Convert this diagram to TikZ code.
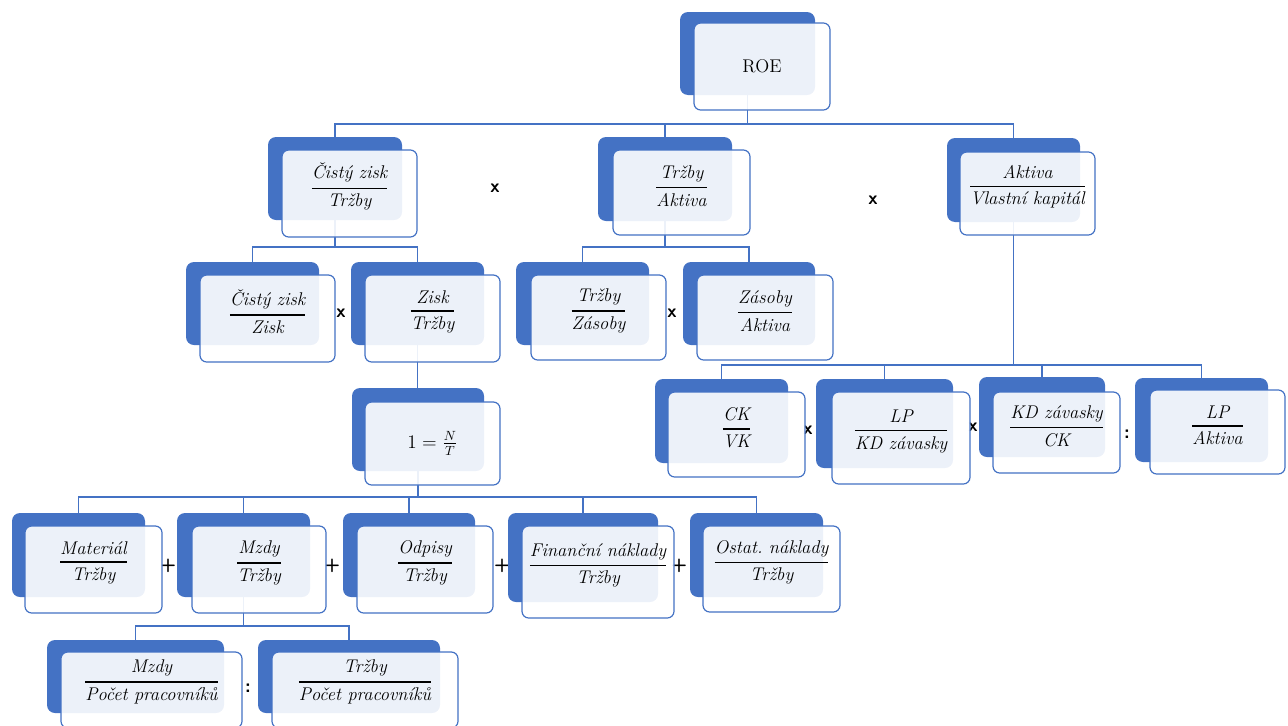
\documentclass[tikz,border=0pt]{standalone}
\usepackage{amsmath}
\usepackage{fontspec}
\usetikzlibrary{positioning,fit,backgrounds}
\definecolor{DkBlue}{RGB}{68,114,196}

\tikzset{
	shbox/.style={fill=DkBlue,rounded corners=6pt,inner sep=0pt},
	wbox/.style={draw=DkBlue,line width=0.9pt,fill=white,fill opacity=0.9,rounded corners=5pt,inner sep=0pt},
	txt/.style={font=\fontsize{13.8}{16}\selectfont,inner sep=1pt},
	sgn/.style={font=\sffamily\bfseries\fontsize{14}{14}\selectfont,inner sep=1pt},
	ln/.style={draw=DkBlue,line width=1.1pt}
}
\newcommand{\fr}[2]{$\genfrac{}{}{1.2pt}{0}{\textit{#1}}{\textit{#2}}$}
% #2 name, #3 dark corners, #4 light corners, #5 text
\newcommand{\blk}[5][yshift=5pt]{%
	\node[shbox,fit={#3}] (#2-s) {};
	\node[wbox,fit={#4}] (#2) {};
	\node[txt,#1] (#2-t) at (#2) {#5};
}

\begin{document}
\begin{tikzpicture}[x=0.75pt,y=-0.75pt]
	\useasboundingbox (0,0) rectangle (1288,725);
	\clip (0,0) rectangle (1288,725);
	\coordinate (bar0) at (0,124);
	\coordinate (bar1) at (0,247);
	\coordinate (bar2) at (0,497);
	\coordinate (bar3) at (0,365);
	\coordinate (bar4) at (0,626);
	% signs
	\node[sgn] (m1) at (495,188) {x};
	\node[sgn] (m2) at (873,200) {x};
	\node[sgn] (m3) at (341,313) {x};
	\node[sgn] (m4) at (672,313) {x};
	\node[sgn] (m5) at (808,430) {x};
	\node[sgn] (m6) at (973,427) {x};
	\node[sgn] (d1) at (1127,434) {:};
	\node[sgn] (p1) at (168,566) {+};
	\node[sgn] (p2) at (332,566) {+};
	\node[sgn] (p3) at (502,566) {+};
	\node[sgn] (p4) at (679,566) {+};
	\node[sgn] (d2) at (248,688) {:};
	% boxes
	\blk[]{roe}{(680,12) (815,95)}{(694,23) (830,110)}{ROE}
	\blk{cz}{(268,137) (402,220)}{(282,150) (417,237)}{\fr{Čistý zisk}{Tržby}}
	\blk{ta}{(598,137) (732,221)}{(613,150) (750,235)}{\fr{Tržby}{Aktiva}}
	\blk{av}{(947,138) (1080,222)}{(960,152) (1095,235)}{\fr{Aktiva}{Vlastní kapitál}}
	\blk{czz}{(186,262) (319,345)}{(200,275) (335,362)}{\fr{Čistý zisk}{Zisk}}
	\blk{zt}{(351,262) (484,345)}{(365,275) (500,362)}{\fr{Zisk}{Tržby}}
	\blk{tz}{(516,262) (649,345)}{(531,275) (666,360)}{\fr{Tržby}{Zásoby}}
	\blk{za}{(683,262) (815,345)}{(697,275) (833,360)}{\fr{Zásoby}{Aktiva}}
	\blk[]{nt}{(352,388) (484,471)}{(365,402) (500,485)}{$1=\frac{N}{T}$}
	\blk{ckvk}{(655,379) (788,463)}{(668,392) (805,477)}{\fr{CK}{VK}}
	\blk{lpkd}{(816,379) (953,468)}{(832,392) (970,484)}{\fr{LP}{KD závasky}}
	\blk{kdck}{(979,377) (1105,457)}{(993,392) (1120,473)}{\fr{KD závasky}{CK}}
	\blk{lpa}{(1135,378) (1268,462)}{(1150,390) (1285,474)}{\fr{LP}{Aktiva}}
	\blk{mat}{(12,513) (145,597)}{(25,526) (162,613)}{\fr{Materiál}{Tržby}}
	\blk{mzdy}{(177,513) (310,597)}{(192,526) (326,613)}{\fr{Mzdy}{Tržby}}
	\blk{odp}{(343,513) (475,597)}{(357,526) (493,613)}{\fr{Odpisy}{Tržby}}
	\blk{fin}{(508,513) (658,602)}{(522,526) (674,618)}{\fr{Finanční náklady}{Tržby}}
	\blk{ost}{(690,513) (823,597)}{(703,526) (840,612)}{\fr{Ostat.\ náklady}{Tržby}}
	\blk[yshift=6pt]{mpp}{(47,640) (224,713)}{(61,652) (242,728)}{\fr{Mzdy}{Počet pracovníků}}
	\blk[yshift=6pt]{tpp}{(258,640) (440,713)}{(272,652) (458,728)}{\fr{Tržby}{Počet pracovníků}}
	% connectors
	\begin{scope}[on background layer]
		\draw[ln] (roe-s) -- (roe-s |- bar0) -| (cz-s);
		\draw[ln] (roe-s) -- (roe-s |- bar0) -| (ta-s);
		\draw[ln] (roe-s) -- (roe-s |- bar0) -| (av-s);
		\draw[ln] (cz-s) -- (cz-s |- bar1) -| (czz-s);
		\draw[ln] (cz-s) -- (cz-s |- bar1) -| (zt-s);
		\draw[ln] (ta-s) -- (ta-s |- bar1) -| (tz-s);
		\draw[ln] (ta-s) -- (ta-s |- bar1) -| (za-s);
		\draw[ln] (zt-s) -- (zt-s |- nt-s.north);
		\foreach \c in {mat,mzdy,odp,fin,ost}
			\draw[ln] (nt-s) -- (nt-s |- bar2) -| (\c-s);
		\foreach \c in {ckvk,lpkd,kdck,lpa}
			\draw[ln] (av-s) -- (av-s |- bar3) -| (\c-s);
		\draw[ln] (mzdy-s) -- (mzdy-s |- bar4) -| (mpp-s);
		\draw[ln] (mzdy-s) -- (mzdy-s |- bar4) -| (tpp-s);
	\end{scope}
\end{tikzpicture}
\end{document}
